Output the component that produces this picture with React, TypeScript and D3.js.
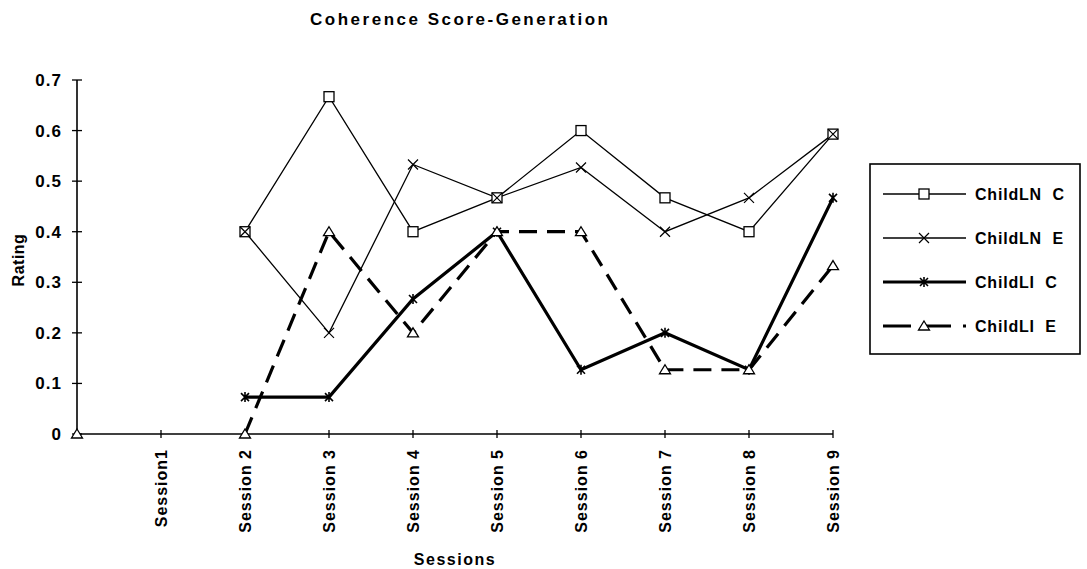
import * as d3 from 'd3'

// categories (first slot has no label; the y axis sits on it)
const sessions = ['', 'Session1', 'Session 2', 'Session 3', 'Session 4', 'Session 5', 'Session 6', 'Session 7', 'Session 8', 'Session 9']
const yTicks = [0, 0.1, 0.2, 0.3, 0.4, 0.5, 0.6, 0.7]

const childLNC = [null, null, 0.4, 0.667, 0.4, 0.467, 0.6, 0.467, 0.4, 0.593]
const childLNE = [null, null, 0.4, 0.2, 0.533, 0.467, 0.527, 0.4, 0.467, 0.593]
const childLIC = [null, null, 0.073, 0.073, 0.267, 0.4, 0.127, 0.2, 0.127, 0.467]
const childLIE = [0, null, 0, 0.4, 0.2, 0.4, 0.4, 0.127, 0.127, 0.333]

const seriesNames = ['ChildLN  C', 'ChildLN  E', 'ChildLI  C', 'ChildLI  E']

const W = 1087
const H = 569
const FONT = '"Liberation Sans", Arial, sans-serif'

type Series = { name: string; values: (number | null)[]; width: number; dash?: string; marker: string }

const series: Series[] = [
  { name: seriesNames[0], values: childLNC, width: 1.3, marker: 'square' },
  { name: seriesNames[1], values: childLNE, width: 1.3, marker: 'x' },
  { name: seriesNames[2], values: childLIC, width: 3.2, marker: 'star' },
  { name: seriesNames[3], values: childLIE, width: 3.2, dash: '18 10', marker: 'triangle' },
]

function Marker({ type, x, y }: { type: string; x: number; y: number }) {
  const s = 5
  if (type === 'square')
    return <rect x={x - s} y={y - s} width={s * 2} height={s * 2} fill="#fff" stroke="#000" strokeWidth={1.3} />
  if (type === 'x')
    return <path d={`M${x - s},${y - s}L${x + s},${y + s}M${x - s},${y + s}L${x + s},${y - s}`} stroke="#000" strokeWidth={1.2} />
  if (type === 'star')
    return (
      <path
        d={`M${x - 4},${y - 4}L${x + 4},${y + 4}M${x - 4},${y + 4}L${x + 4},${y - 4}M${x},${y - 5}L${x},${y + 5}`}
        stroke="#000"
        strokeWidth={1.6}
      />
    )
  return <path d={`M${x},${y - 5}L${x + 5.5},${y + 4}L${x - 5.5},${y + 4}Z`} fill="#fff" stroke="#000" strokeWidth={1.3} />
}

export default function App() {
  const x = d3.scalePoint<number>().domain(d3.range(sessions.length)).range([77, 833])
  const y = d3.scaleLinear().domain([0, 0.7]).range([434, 80])

  const line = d3
    .line<number | null>()
    .defined((d) => d != null)
    .x((_, i) => x(i) as number)
    .y((d) => y(d as number))

  const legendX = 870
  const legendY = 164

  return (
    <svg width={W} height={H} style={{ position: 'absolute', left: 0, top: 0, background: '#fff' }} fontFamily={FONT}>
      <text x={310} y={25} fontSize={17} fontWeight="bold" textLength={298} lengthAdjust="spacing">
        Coherence Score-Generation
      </text>

      {/* y axis */}
      <line x1={77} x2={77} y1={y(0.7)} y2={y(0)} stroke="#000" strokeWidth={1.6} />
      {yTicks.map((t) => (
        <g key={t}>
          <line x1={72} x2={82} y1={y(t)} y2={y(t)} stroke="#000" strokeWidth={1.3} />
          <text x={62} y={y(t) + 6} textAnchor="end" fontSize={17} fontWeight="bold" letterSpacing={1}>
            {d3.format('.1~f')(t)}
          </text>
        </g>
      ))}
      <text transform={`translate(24,${260}) rotate(-90)`} textAnchor="middle" fontSize={16} fontWeight="bold" letterSpacing={0.5}>
        Rating
      </text>

      {/* x axis */}
      <line x1={77} x2={833} y1={y(0)} y2={y(0)} stroke="#000" strokeWidth={1.6} />
      {sessions.map((s, i) => (
        <g key={i}>
          <line x1={x(i)} x2={x(i)} y1={y(0) - 4} y2={y(0) + 4} stroke="#000" strokeWidth={1.3} />
          {s && (
            <text
              transform={`translate(${(x(i) as number) + 6},${y(0) + 15}) rotate(-90)`}
              textAnchor="end"
              fontSize={16}
              fontWeight="bold"
              letterSpacing={1}
            >
              {s}
            </text>
          )}
        </g>
      ))}
      <text x={455} y={565} textAnchor="middle" fontSize={16} fontWeight="bold" letterSpacing={1.5}>
        Sessions
      </text>

      {/* series */}
      {series.map((s) => (
        <path key={s.name} d={line(s.values) || ''} fill="none" stroke="#000" strokeWidth={s.width} strokeDasharray={s.dash} />
      ))}
      {series.map((s) =>
        s.values.map((v, i) =>
          v == null ? null : <Marker key={s.name + i} type={s.marker} x={x(i) as number} y={y(v)} />
        )
      )}

      {/* legend */}
      <rect x={legendX} y={legendY} width={210} height={190} fill="#fff" stroke="#000" strokeWidth={1.6} />
      {series.map((s, i) => {
        const cy = legendY + 30 + i * 44
        return (
          <g key={s.name}>
            <line x1={883} x2={966} y1={cy} y2={cy} stroke="#000" strokeWidth={s.width} strokeDasharray={s.dash ? '28 12' : undefined} />
            <Marker type={s.marker} x={924} y={cy} />
            <text x={975} y={cy + 6} fontSize={16} fontWeight="bold" letterSpacing={0.8} style={{ whiteSpace: 'pre' }}>
              {s.name}
            </text>
          </g>
        )
      })}
    </svg>
  )
}
